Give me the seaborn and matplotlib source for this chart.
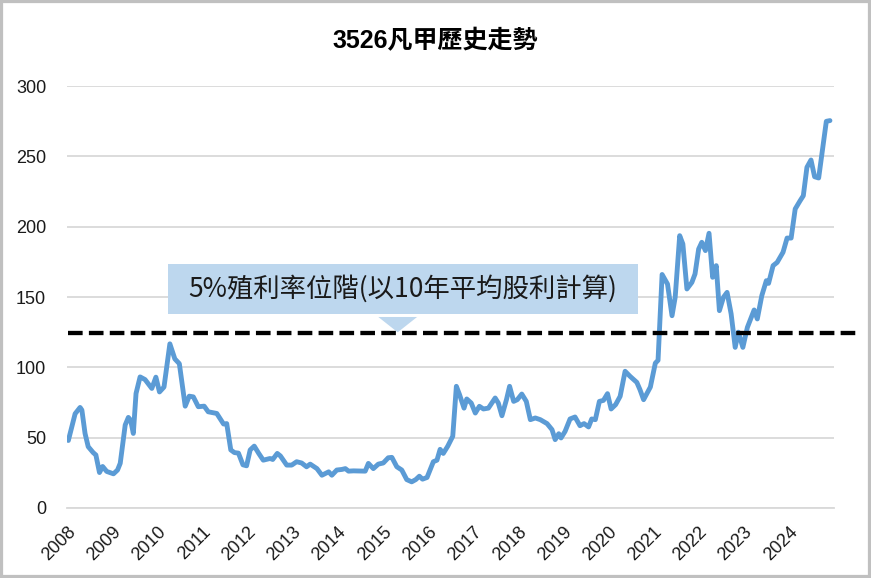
import numpy as np
import pandas as pd
import matplotlib
matplotlib.use("Agg")
import matplotlib.pyplot as plt
from matplotlib.patches import Rectangle, Polygon
import seaborn as sns

# 3526 凡甲 歷史股價（約略月線，讀圖估計）
t_year = [
    2008.03, 2008.18, 2008.29, 2008.33, 2008.40, 2008.47, 2008.58, 2008.64, 2008.72, 2008.79, 2008.88,
    2009.03, 2009.12, 2009.18, 2009.29, 2009.36, 2009.41, 2009.47, 2009.53, 2009.62, 2009.73, 2009.88, 2009.97,
    2010.05, 2010.15, 2010.28, 2010.39, 2010.49, 2010.62, 2010.71, 2010.80, 2010.91,
    2011.04, 2011.13, 2011.32, 2011.47, 2011.54, 2011.63, 2011.71, 2011.80, 2011.90, 2011.98,
    2012.06, 2012.15, 2012.25, 2012.35, 2012.50, 2012.56, 2012.66, 2012.73, 2012.87, 2012.98,
    2013.09, 2013.20, 2013.31, 2013.39, 2013.54, 2013.65, 2013.80, 2013.87, 2013.98,
    2014.09, 2014.17, 2014.24, 2014.35, 2014.61, 2014.68, 2014.79, 2014.90,
    2015.01, 2015.12, 2015.20, 2015.31, 2015.42, 2015.53, 2015.64, 2015.73, 2015.81, 2015.88, 2015.98,
    2016.12, 2016.20, 2016.27, 2016.34, 2016.44, 2016.55, 2016.63, 2016.70, 2016.80, 2016.86, 2016.96,
    2017.05, 2017.14, 2017.23, 2017.34, 2017.49, 2017.56, 2017.64, 2017.74, 2017.81, 2017.90, 2017.98,
    2018.08, 2018.18, 2018.27, 2018.38, 2018.49, 2018.64, 2018.75, 2018.82, 2018.90, 2018.95,
    2019.04, 2019.15, 2019.26, 2019.37, 2019.46, 2019.56, 2019.63, 2019.71, 2019.80, 2019.89, 2019.98,
    2020.06, 2020.16, 2020.26, 2020.37, 2020.48, 2020.63, 2020.70, 2020.78, 2020.93,
    2021.04, 2021.10, 2021.19, 2021.31, 2021.41, 2021.48, 2021.58, 2021.65, 2021.74, 2021.85, 2021.92,
    2022.00, 2022.07, 2022.15, 2022.23, 2022.31, 2022.39, 2022.46, 2022.55, 2022.63, 2022.72, 2022.81, 2022.88, 2022.98,
    2023.08, 2023.23, 2023.30, 2023.40, 2023.50, 2023.55, 2023.65, 2023.74, 2023.87, 2023.96,
    2024.05, 2024.14, 2024.25, 2024.32, 2024.40, 2024.49, 2024.57, 2024.66, 2024.83, 2024.91,
]
price = [
    48, 67, 71.5, 69.6, 53, 43.6, 39.4, 37.7, 25.2, 29.5, 26,
    24.3, 27, 31.8, 59, 64.4, 62.5, 53, 81.4, 93.2, 91.3, 85, 93,
    82.5, 86, 116.7, 106, 102.6, 72.4, 79.5, 79, 72,
    72.4, 68.4, 67.2, 59.7, 60, 41.3, 39.4, 39, 30.7, 30,
    41.3, 44, 38.8, 34, 35.2, 34.5, 38.8, 37, 30.5, 30.5,
    32.9, 32, 29.3, 31.2, 28, 23.3, 25.7, 23.3, 27,
    27.4, 28, 26.2, 26.4, 26.2, 31.7, 28, 31.2,
    32, 35.7, 36, 29.3, 27, 20.2, 18.6, 20.2, 22.6, 20.5, 21.7,
    32.9, 34, 41.7, 38.8, 44, 51, 86.5, 80.6, 71, 77.5, 74.6,
    67.5, 72.3, 70.4, 71, 78.2, 74.6, 65.6, 77, 86.5, 75.8, 77,
    81, 75.8, 62.8, 64, 62.8, 60, 55.7, 48.6, 52.8, 49.8,
    54.5, 63.3, 64.7, 58.5, 60, 57.6, 63.3, 62.8, 75.8, 76.5, 81.3,
    70.4, 73.5, 79.4, 97.2, 93.6, 89.3, 84.1, 77, 86,
    103, 105, 166, 159.2, 136.7, 149.8, 193.6, 187.7, 155.7, 160.4, 166.4,
    184.1, 188.9, 183, 195.3, 164, 172.3, 140.3, 149.8, 153.3, 138, 114.2, 125, 114.2,
    128.4, 140.8, 134.4, 151, 161.6, 159.7, 172.3, 174.6, 181.8, 191.9,
    191.9, 212.6, 218.5, 222, 242.2, 247.4, 235.5, 234.6, 274.9, 275.4,
]
years = list(range(2008, 2025))
yield_level = 124.4  # 5% 殖利率位階
callout_text = "5%殖利率位階(以10年平均股利計算)"
title_text = "3526凡甲歷史走勢"

df = pd.DataFrame({"t": t_year, "price": price})

sns.set_theme(style="white")
plt.rcParams["font.family"] = ["Liberation Sans", "Noto Sans CJK TC", "DejaVu Sans"]

fig = plt.figure(figsize=(8.71, 5.78), dpi=100)
ax = fig.add_axes([67 / 871, 1 - 508 / 578, (834 - 67) / 871, (508 - 86) / 578])

sns.lineplot(data=df, x="t", y="price", ax=ax, color="#5b9bd5", linewidth=3.5,
             estimator=None, sort=False)

# 5%殖利率虛線（延伸到座標軸外）
ax.plot([2008.02, 2025.5], [yield_level, yield_level], color="black", linewidth=3.1,
        linestyle=(0, (3.4, 1.45)), clip_on=False, zorder=4)

ax.set_xlim(2008, 2025)
ax.set_ylim(0, 300)
ax.set_yticks(np.arange(0, 301, 50))
ax.set_xticks(list(range(2008, 2026)))
ax.set_xticklabels([str(y) for y in years] + [""], rotation=45, ha="right",
                   rotation_mode="anchor", fontsize=13, color="#1a1a1a")
ax.tick_params(axis="x", length=4, width=1.3, color="#d9d9d9", direction="out", pad=7)
ax.tick_params(axis="y", length=0, pad=15, labelsize=13, labelcolor="#1a1a1a")
ax.set_xlabel("")
ax.set_ylabel("")

ax.grid(axis="y", color="#d9d9d9", linewidth=1.3)
ax.grid(axis="x", visible=False)
for s in ["top", "right", "left"]:
    ax.spines[s].set_visible(False)
ax.spines["bottom"].set_color("#d9d9d9")
ax.spines["bottom"].set_linewidth(1.3)

# 說明框與向下箭頭
box = Rectangle((2010.24, 137.9), 10.42, 35.5, facecolor="#bdd7ee", edgecolor="none", zorder=3)
ax.add_patch(box)
arrow = Polygon([(2014.90, 135.8), (2015.76, 135.8), (2015.33, yield_level + 0.5)],
                closed=True, facecolor="#bdd7ee", edgecolor="none", zorder=3)
ax.add_patch(arrow)
ax.text(2015.45, 155.6, callout_text, ha="center", va="center", fontsize=19,
        family=["Noto Sans CJK TC", "DejaVu Sans"], color="#1a1a1a", zorder=5)

fig.text(435.5 / 871, 1 - 41 / 578, title_text, ha="center", va="center",
         fontsize=18, fontweight="bold", color="black")

# 外框
fig.patches.append(Rectangle((0, 0), 1, 1, transform=fig.transFigure, fill=False,
                             edgecolor="#c0c0c0", linewidth=4.5))

fig.savefig("out.png", dpi=100)
